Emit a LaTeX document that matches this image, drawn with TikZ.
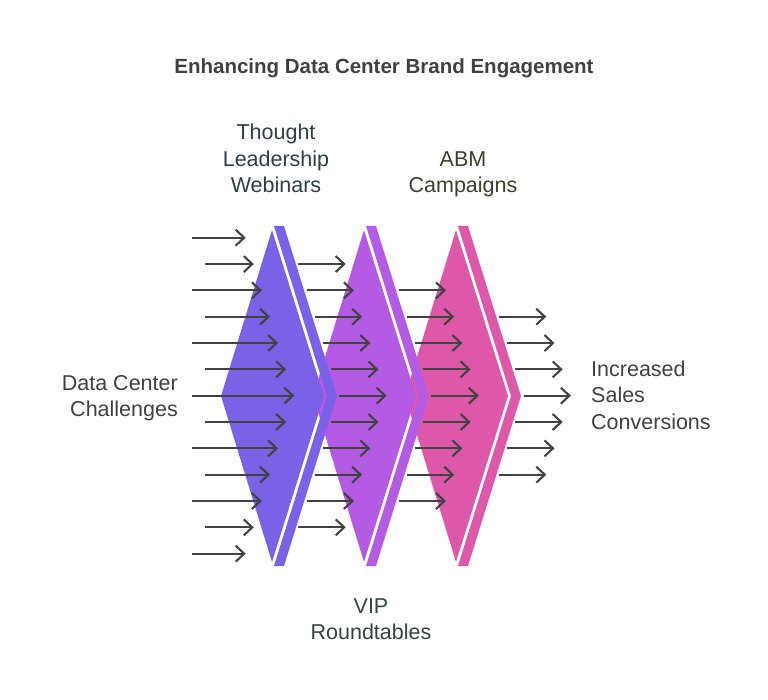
\documentclass[tikz,border=0pt]{standalone}
\usepackage{fontspec}
\setmainfont{Liberation Sans}
\usetikzlibrary{arrows.meta}
\definecolor{bluefill}{HTML}{7A61E6}
\definecolor{purplefill}{HTML}{B35CE3}
\definecolor{pinkfill}{HTML}{DD58A8}
\definecolor{arrowgrey}{HTML}{424242}
\definecolor{titlegrey}{HTML}{404040}
\definecolor{slatetext}{HTML}{2F3D45}
\definecolor{olivetext}{HTML}{3B3F2E}
\definecolor{greentext}{HTML}{34453A}
\begin{document}
\begin{tikzpicture}[x=1pt, y=-1pt,
    flow/.style={draw=arrowgrey, line width=2.1pt, -{Straight Barb[length=8.5pt,width=16pt]}},
    label/.style={font=\fontsize{21.5}{26.5}\selectfont, align=center, anchor=base, inner sep=0pt}]
    \useasboundingbox (0,0) rectangle (768,700);
    % chevron stages, right to left so the left one lies on top
    \foreach \g/\col in {2/pinkfill, 1/purplefill, 0/bluefill} {
        \begin{scope}[xshift=92*\g]
            \fill[\col] (272,230) -- (324,396) -- (272,562) -- (221,396) -- cycle;
            \fill[\col] (274,226) -- (284,226) -- (337,396) -- (284,566) -- (274,566) -- (327,396) -- cycle;
        \end{scope}
    }
    % incoming arrows
    \foreach \i in {0,...,12} {
        \pgfmathsetmacro\k{abs(\i-6)}
        \pgfmathsetmacro\y{237.7+26.33*\i}
        \pgfmathsetmacro\xa{isodd(\i) ? 205.3 : 192}
        \pgfmathsetmacro\xb{294.3-8.1*\k}
        \draw[flow] (\xa,\y) -- (\xb,\y);
    }
    % arrows after each stage
    \foreach \g/\n in {1/5, 2/4, 3/3} {
        \pgfmathtruncatemacro\lo{6-\n}
        \pgfmathtruncatemacro\hi{6+\n}
        \foreach \i in {\lo,...,\hi} {
            \pgfmathsetmacro\k{abs(\i-6)}
            \pgfmathsetmacro\y{237.7+26.33*\i}
            \pgfmathsetmacro\xa{339.3+92.1*(\g-1)-8.2*\k}
            \draw[flow] (\xa,\y) -- ++(47.4,0);
        }
    }
    % labels, placed at the baseline of their last line
    \node(title) at (384,74) [label, font=\fontsize{20.5}{24}\selectfont\bfseries, text=titlegrey] {Enhancing Data Center Brand Engagement};
    \node(webinars) at (276,193) [label, text=slatetext] {Thought\\Leadership\\Webinars};
    \node(abm) at (463,193) [label, text=olivetext] {ABM\\Campaigns};
    \node(vip) at (371,639.5) [label, text=greentext] {VIP\\Roundtables};
    \node(challenges) at (178,416.5) [label, anchor=base east, align=right, text=titlegrey] {Data Center\\Challenges};
    \node(sales) at (591,429) [label, anchor=base west, align=left, text=titlegrey] {Increased\\Sales\\Conversions};
\end{tikzpicture}
\end{document}
